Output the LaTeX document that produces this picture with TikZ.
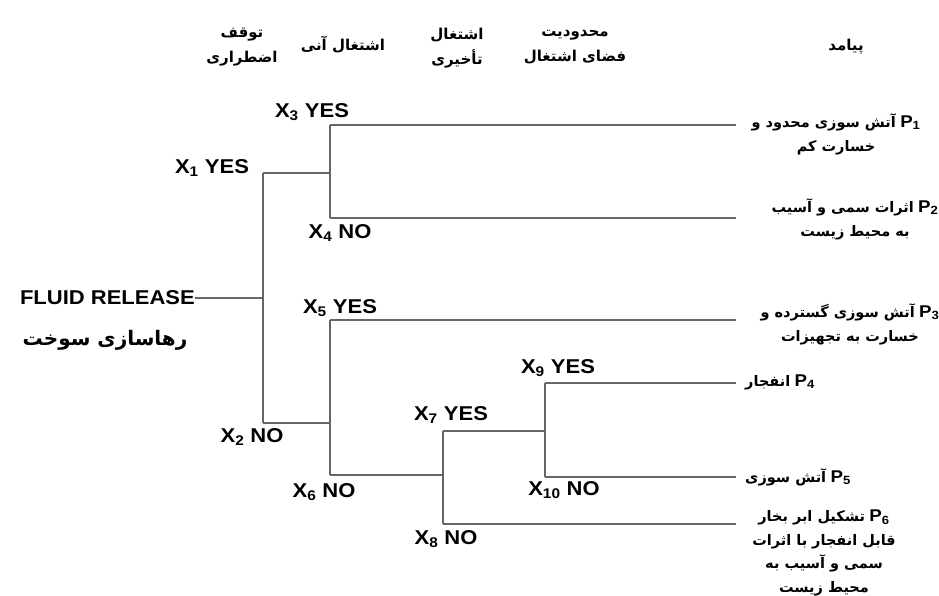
\documentclass[tikz,border=0pt]{standalone}
\usepackage{fontspec}
\setmainfont[FakeStretch=1.1]{Liberation Sans}
\newfontfamily\farsifont[Script=Arabic]{DejaVu Sans}
\TeXXeTstate=1
\newcommand\fa[1]{{\farsifont\bfseries\beginR #1\endR}}
\newcommand\xl[2]{X\textsubscript{#1} #2}
\newcommand\pl[1]{{\fontsize{17}{18}\selectfont P\textsubscript{#1}}}
\tikzset{
  br/.style={draw=black!60, line width=1.4pt},
  xlab/.style={font=\bfseries\fontsize{20}{22}\selectfont, inner sep=0pt},
  hdr/.style={font=\fontsize{15}{25}\selectfont, align=center, inner sep=0pt},
  outc/.style={font=\bfseries\fontsize{14.5}{24.5}\selectfont, align=center, inner sep=0pt},
}
\begin{document}
\begin{tikzpicture}[x=1pt,y=-1pt]
\useasboundingbox[fill=white] (0,0) rectangle (939,596);
% headers
\node[hdr] (h1) at (242,47) {\fa{توقف}\\\fa{اضطراری}};
\node[hdr] (h2) at (343,45) {\fa{اشتغال آنی}};
\node[hdr] (h3) at (457,48) {\fa{اشتغال}\\\fa{تأخیری}};
\node[hdr] (h4) at (575,47) {\fa{محدودیت}\\\fa{فضای اشتغال}};
\node[hdr] (h5) at (846,47) {\fa{پیامد}};
% root
\node[xlab, anchor=east] (root) at (195,298) {FLUID RELEASE};
\node[hdr, font=\fontsize{20}{22}\selectfont] (rootfa) at (105,340) {\fa{رهاسازی سوخت}};
% junction coordinates
\coordinate (j0) at (263,298);
\coordinate (j1t) at (263,173);
\coordinate (j1b) at (263,423);
\coordinate (k1) at (330,173);
\coordinate (k1t) at (330,125);
\coordinate (k1b) at (330,218);
\coordinate (k2) at (330,423);
\coordinate (k2t) at (330,320);
\coordinate (k2b) at (330,475);
\coordinate (m) at (443,475);
\coordinate (mt) at (443,431);
\coordinate (mb) at (443,524);
\coordinate (n) at (545,431);
\coordinate (nt) at (545,383);
\coordinate (nb) at (545,477);
\coordinate (e1) at (736,125);
\coordinate (e2) at (736,218);
\coordinate (e3) at (736,320);
\coordinate (e4) at (736,383);
\coordinate (e5) at (736,477);
\coordinate (e6) at (736,524);
% branches
\draw[br] (root.east |- j0) -- (j0);
\draw[br] (j1t) -- (j1b);
\draw[br] (j1t) -- (k1);
\draw[br] (j1b) -- (k2);
\draw[br] (k1t) -- (k1b);
\draw[br] (k2t) -- (k2b);
\draw[br] (k1t) -- (e1);
\draw[br] (k1b) -- (e2);
\draw[br] (k2t) -- (e3);
\draw[br] (k2b) -- (m);
\draw[br] (mt) -- (mb);
\draw[br] (mt) -- (n);
\draw[br] (mb) -- (e6);
\draw[br] (nt) -- (nb);
\draw[br] (nt) -- (e4);
\draw[br] (nb) -- (e5);
% branch labels
\node[xlab] (x1) at (212,168) {\xl{1}{YES}};
\node[xlab] (x2) at (252,437) {\xl{2}{NO}};
\node[xlab] (x3) at (312,112) {\xl{3}{YES}};
\node[xlab] (x4) at (340,233) {\xl{4}{NO}};
\node[xlab] (x5) at (340,308) {\xl{5}{YES}};
\node[xlab] (x6) at (324,492) {\xl{6}{NO}};
\node[xlab] (x7) at (451,415) {\xl{7}{YES}};
\node[xlab] (x8) at (446,539) {\xl{8}{NO}};
\node[xlab] (x9) at (558,368) {\xl{9}{YES}};
\node[xlab] (x10) at (564,490) {\xl{10}{NO}};
% outcomes
\node[outc, anchor=north] (p1) at (836,113) {\fa{آتش سوزی محدود و} \pl{1}\\\fa{خسارت کم}};
\node[outc, anchor=north] (p2) at (855,198) {\fa{اثرات سمی و آسیب} \pl{2}\\\fa{به محیط زیست}};
\node[outc, anchor=north] (p3) at (850,303) {\fa{آتش سوزی گسترده و} \pl{3}\\\fa{خسارت به تجهیزات}};
\node[outc, anchor=west] (p4) at (745,382) {\fa{انفجار} \pl{4}};
\node[outc, anchor=west] (p5) at (745,477) {\fa{آتش سوزی} \pl{5}};
\node[outc, anchor=north, font=\bfseries\fontsize{14.5}{23.5}\selectfont] (p6) at (824,510) {\fa{تشکیل ابر بخار} \pl{6}\\\fa{قابل انفجار با اثرات}\\\fa{سمی و آسیب به}\\\fa{محیط زیست}};
\end{tikzpicture}
\end{document}
